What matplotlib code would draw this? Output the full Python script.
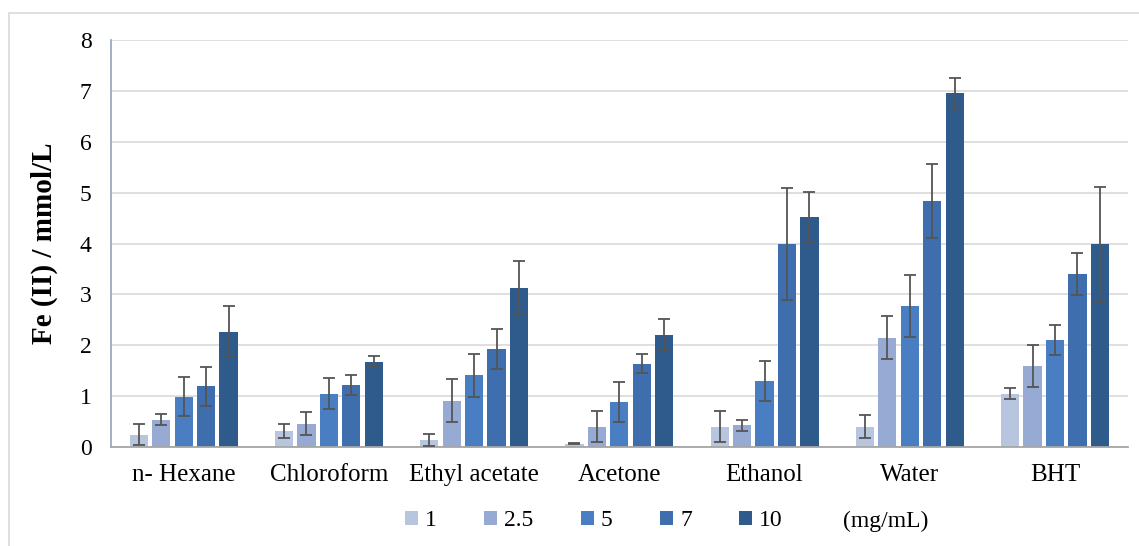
import matplotlib
matplotlib.use("Agg")
import matplotlib.pyplot as plt
import numpy as np
from matplotlib.patches import Rectangle

plt.rcParams['font.family'] = ['Liberation Serif', 'DejaVu Serif']

solvents = ["n- Hexane", "Chloroform", "Ethyl acetate", "Acetone", "Ethanol", "Water", "BHT"]
concentrations = ["1", "2.5", "5", "7", "10"]

# Fe(II) in mmol/L for each concentration (rows) and extract (columns)
fe_1 = [0.24, 0.31, 0.14, 0.06, 0.40, 0.40, 1.05]
fe_2_5 = [0.54, 0.46, 0.91, 0.40, 0.43, 2.15, 1.59]
fe_5 = [0.99, 1.05, 1.41, 0.88, 1.30, 2.77, 2.10]
fe_7 = [1.19, 1.22, 1.93, 1.64, 3.99, 4.83, 3.40]
fe_10 = [2.27, 1.68, 3.13, 2.20, 4.52, 6.95, 3.99]

err_1 = [0.21, 0.14, 0.12, 0.01, 0.31, 0.23, 0.11]
err_2_5 = [0.11, 0.22, 0.42, 0.31, 0.11, 0.42, 0.42]
err_5 = [0.39, 0.30, 0.42, 0.39, 0.39, 0.61, 0.30]
err_7 = [0.39, 0.19, 0.39, 0.19, 1.10, 0.73, 0.41]
err_10 = [0.50, 0.10, 0.53, 0.31, 0.50, 0.30, 1.13]

values = [fe_1, fe_2_5, fe_5, fe_7, fe_10]
errors = [err_1, err_2_5, err_5, err_7, err_10]
colors = ["#b8c5de", "#97aad3", "#4a7ec3", "#3e6ead", "#2f5a8c"]

fig = plt.figure(figsize=(11.39, 5.46), dpi=100)
ax = fig.add_axes([0.0975, 0.1813, 0.8925, 0.7454])

# thin frame around the chart area
fig.patches.append(Rectangle((9 / 1139, -0.1), 1.2, 1 - 13 / 546 + 0.1,
                             transform=fig.transFigure, fill=False,
                             edgecolor="#d9d9d9", linewidth=1.2, zorder=0))

x = np.arange(len(solvents))
pitch = 0.1545
width = 0.126
for i, (vals, errs, col, lab) in enumerate(zip(values, errors, colors, concentrations)):
    pos = x + (i - 2) * pitch
    ax.bar(pos, vals, width=width, color=col, label=lab, zorder=2)
    ax.errorbar(pos, vals, yerr=errs, fmt="none", ecolor="#555555",
                elinewidth=1.3, capsize=4.5, capthick=1.3, zorder=3)

ax.set_xlim(-0.5, len(solvents) - 0.5)
ax.set_ylim(0, 8)
ax.set_yticks(range(0, 9))
ax.yaxis.grid(True, color="#d9d9d9", linewidth=1.2, zorder=0)
ax.set_axisbelow(True)
ax.set_xticks(x)
ax.set_xticklabels(solvents, fontsize=18)
ax.tick_params(axis="y", labelsize=17, length=0, pad=14)
ax.tick_params(axis="x", length=0, pad=12)
for s in ["top", "right"]:
    ax.spines[s].set_visible(False)
ax.spines["left"].set_color("#9aabbd")
ax.spines["left"].set_linewidth(1.3)
ax.spines["bottom"].set_color("#a6a6a6")
ax.spines["bottom"].set_linewidth(1.3)
ax.set_ylabel("Fe (II) / mmol/L", fontsize=21, fontweight="bold", labelpad=16)

leg = fig.legend(loc="center", bbox_to_anchor=(594 / 1139, 1 - 521 / 546), ncol=5,
                 frameon=False, fontsize=17, handlelength=0.55, handleheight=0.55,
                 handletextpad=0.3, columnspacing=2.0)
fig.text(843 / 1139, 1 - 521 / 546, "(mg/mL)", fontsize=17, va="center", ha="left")

fig.savefig("out.png", dpi=100)
